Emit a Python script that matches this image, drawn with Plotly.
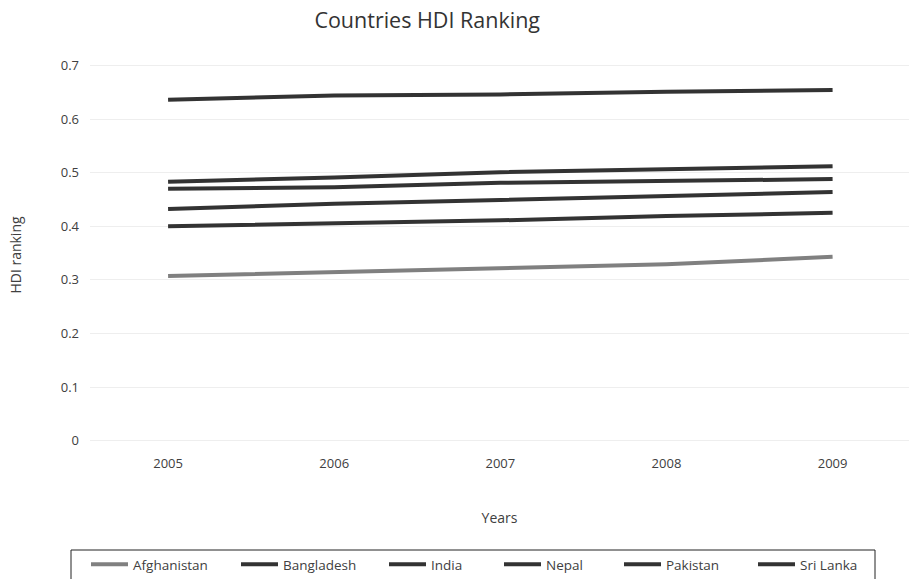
import plotly.graph_objects as go

years = ["2005", "2006", "2007", "2008", "2009"]
afghanistan = [0.307, 0.314, 0.322, 0.329, 0.343]
bangladesh = [0.432, 0.442, 0.449, 0.457, 0.464]
india = [0.483, 0.491, 0.501, 0.506, 0.512]
nepal = [0.400, 0.406, 0.411, 0.419, 0.425]
pakistan = [0.470, 0.473, 0.481, 0.485, 0.488]
sri_lanka = [0.636, 0.644, 0.646, 0.651, 0.654]

names = ["Afghanistan", "Bangladesh", "India", "Nepal", "Pakistan", "Sri Lanka"]
values = [afghanistan, bangladesh, india, nepal, pakistan, sri_lanka]
colors = ["#808080", "#333333", "#333333", "#333333", "#333333", "#333333"]
# legend entry start positions (px in the 909-wide page)
legend_x_px = [86, 236, 384, 499, 619, 753]

W, H = 909, 579
FONT = "Open Sans"
fig = go.Figure()
layout_legends = {}
for i, (name, vals, col) in enumerate(zip(names, values, colors)):
    key = "legend" if i == 0 else f"legend{i+1}"
    fig.add_trace(go.Scatter(x=years, y=vals, name=name, mode="lines",
                             line=dict(color=col, width=4), legend=key))
    layout_legends[key] = dict(
        orientation="h", xref="container", yref="container",
        x=legend_x_px[i] / W, xanchor="left",
        y=1 - 549 / H, yanchor="top", itemwidth=37,
        borderwidth=0, bgcolor="rgba(0,0,0,0)",
        font=dict(size=13.5, color="#404040"),
    )

fig.update_layout(
    width=W, height=H,
    paper_bgcolor="white", plot_bgcolor="white",
    font=dict(family=FONT, color="#404040", size=13),
    title=dict(text="Countries HDI Ranking", x=0.47, xanchor="center",
               y=1 - 20 / H, yanchor="middle", font=dict(size=21.5, color="#333333")),
    margin=dict(l=90, r=0, t=60, b=129, autoexpand=False),
    xaxis=dict(type="category", range=[-0.47, 4.46], showgrid=False,
               showline=False, zeroline=False, ticks="", ticklabelstandoff=4,
               title=dict(text="Years", standoff=42, font=dict(size=14))),
    yaxis=dict(range=[-0.0174, 0.7102], tickvals=[0, 0.1, 0.2, 0.3, 0.4, 0.5, 0.6, 0.7],
               ticktext=["0", "0.1", "0.2", "0.3", "0.4", "0.5", "0.6", "0.7"],
               showgrid=True, gridcolor="#eeeeee", gridwidth=1, zeroline=False,
               showline=False, ticks="", ticklabelstandoff=10,
               title=dict(text="HDI ranking", standoff=35, font=dict(size=14))),
    showlegend=True,
    **layout_legends,
)

# legend frame
fig.add_shape(type="rect", xref="paper", yref="paper",
              x0=(71 - 90) / 819, x1=(875 - 90) / 819,
              y0=(450 - 600) / 390, y1=(450 - 550) / 390,
              line=dict(color="#222222", width=1), fillcolor="rgba(0,0,0,0)")

fig.write_html("out.html", config={"displayModeBar": False},
               post_script="document.body.style.margin='0';")
